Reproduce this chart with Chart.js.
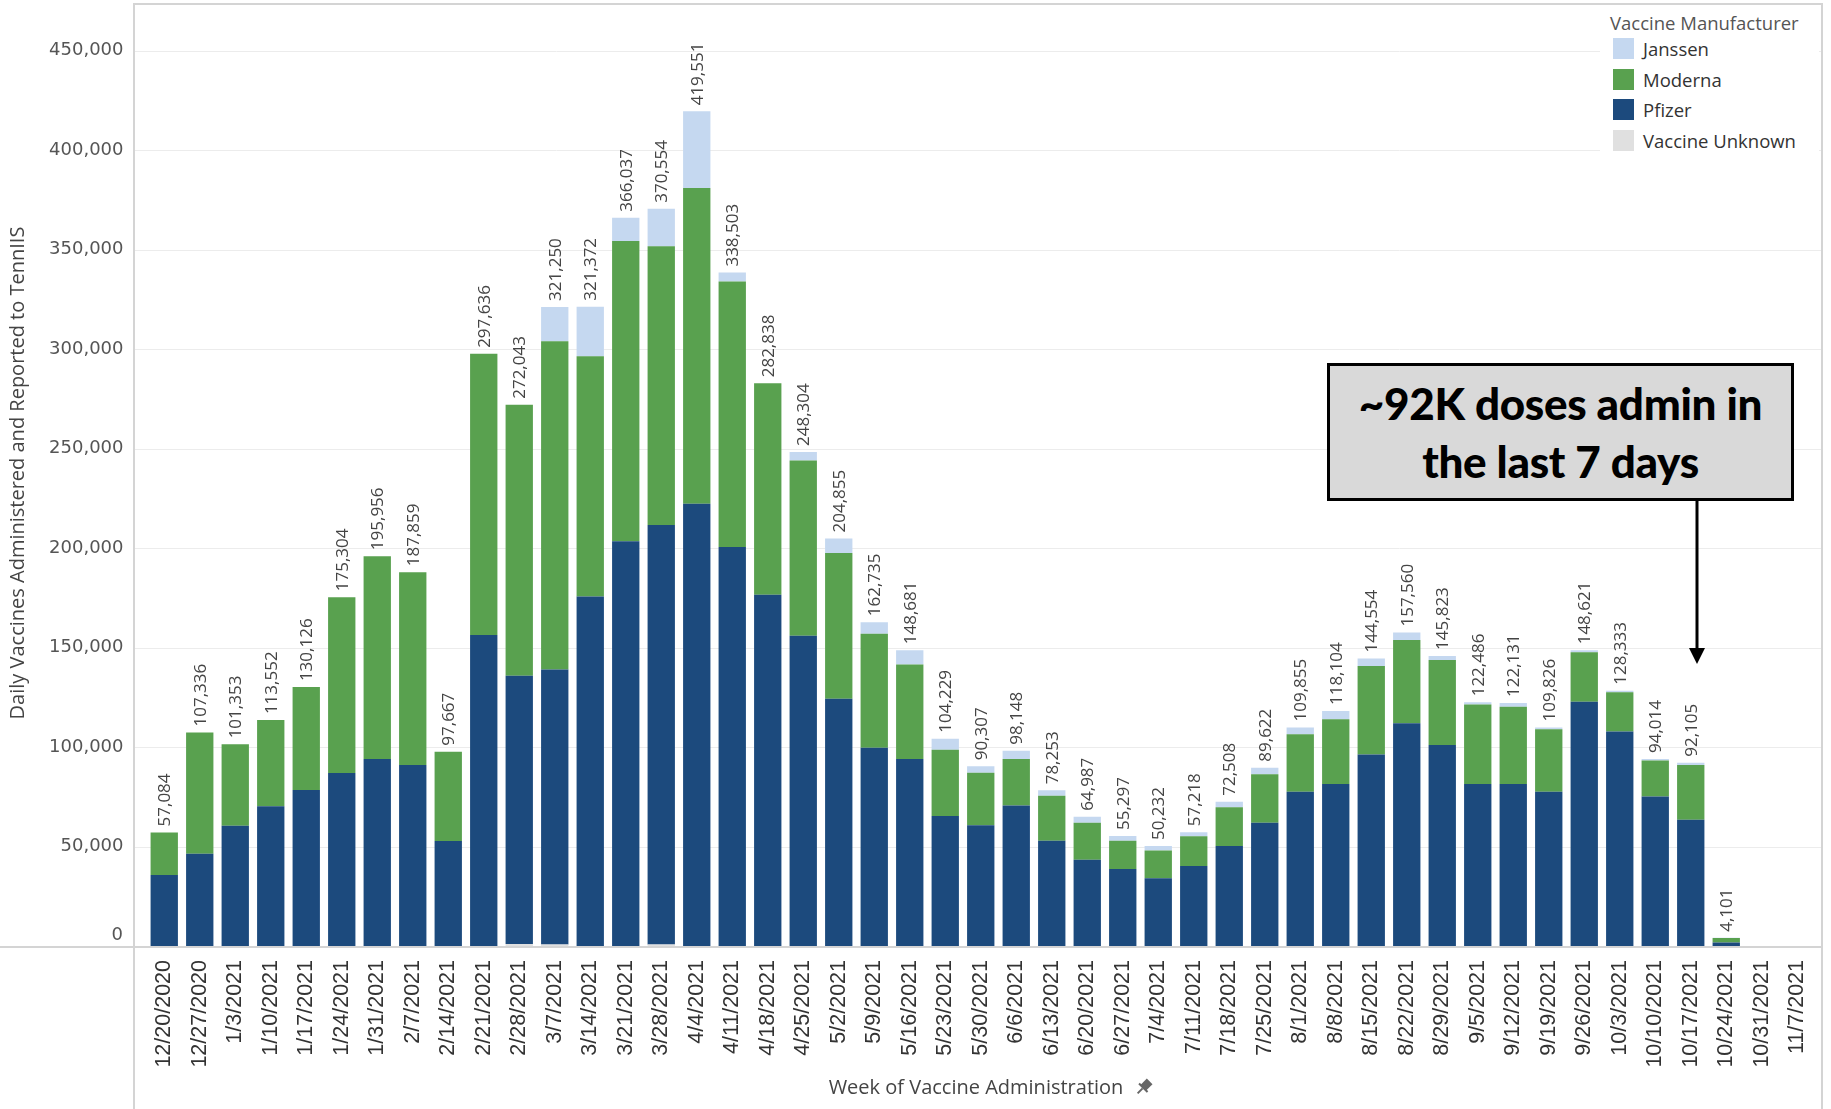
<!DOCTYPE html>
<html>
<head>
<meta charset="utf-8">
<script src="https://cdn.jsdelivr.net/npm/chart.js@4/dist/chart.umd.min.js"></script>
<style>
	html, body { margin: 0; padding: 0; background: #fff; }
	#wrap { position: relative; width: 1831px; height: 1109px; overflow: hidden; }
	#legend { position: absolute; left: 1600px; top: 7px; width: 219px; height: 150px; background: #fff; font-family: "Open Sans", sans-serif; }
	#legend .tit { position: absolute; left: 10px; top: 3px; font-size: 18.5px; color: #555; white-space: nowrap; }
	#legend .item { position: absolute; left: 13px; height: 21px; font-size: 18.5px; color: #333; white-space: nowrap; line-height: 21px; }
	#legend .sw { display: inline-block; width: 21px; height: 21px; vertical-align: top; margin-right: 9px; }
	#note { position: absolute; left: 1327px; top: 363px; width: 461px; background: #d9d9d9; border: 3px solid #000;
		font-family: Lato, sans-serif; font-weight: 900; font-size: 44px; line-height: 58px; color: #000; text-align: center;
		padding-top: 8px; height: 124px; box-sizing: content-box; letter-spacing: -0.3px; }
</style>
</head>
<body>
<div id="wrap">
	<canvas id="chart"></canvas>
	<div id="legend"></div>
	<div id="note">~92K doses admin in<br>the last 7 days</div>
</div>
<script>
const weeks = ["12/20/2020", "12/27/2020", "1/3/2021", "1/10/2021", "1/17/2021", "1/24/2021", "1/31/2021", "2/7/2021", "2/14/2021",
	"2/21/2021", "2/28/2021", "3/7/2021", "3/14/2021", "3/21/2021", "3/28/2021", "4/4/2021", "4/11/2021", "4/18/2021", "4/25/2021",
	"5/2/2021", "5/9/2021", "5/16/2021", "5/23/2021", "5/30/2021", "6/6/2021", "6/13/2021", "6/20/2021", "6/27/2021", "7/4/2021",
	"7/11/2021", "7/18/2021", "7/25/2021", "8/1/2021", "8/8/2021", "8/15/2021", "8/22/2021", "8/29/2021", "9/5/2021", "9/12/2021",
	"9/19/2021", "9/26/2021", "10/3/2021", "10/10/2021", "10/17/2021", "10/24/2021", "10/31/2021", "11/7/2021"];

// weekly totals shown above each bar
const totals = [57084, 107336, 101353, 113552, 130126, 175304, 195956, 187859, 97667,
	297636, 272043, 321250, 321372, 366037, 370554, 419551, 338503, 282838, 248304,
	204855, 162735, 148681, 104229, 90307, 98148, 78253, 64987, 55297, 50232,
	57218, 72508, 89622, 109855, 118104, 144554, 157560, 145823, 122486, 122131,
	109826, 148621, 128333, 94014, 92105, 4101, null, null];

const pfizer = [35700, 46400, 60500, 70200, 78400, 87000, 94000, 91000, 52800,
	156300, 134800, 138200, 175700, 203500, 210800, 222300, 200500, 176600, 156000,
	124300, 99600, 94000, 65300, 60700, 70600, 52900, 43300, 38700, 34000,
	40200, 50300, 62000, 77500, 81400, 96300, 112000, 101000, 81400, 81400,
	77500, 122800, 107800, 75200, 63500, 1800, null, null];

const moderna = [21384, 60936, 40853, 43352, 51726, 88304, 101956, 96859, 44867,
	141336, 136243, 165000, 120800, 150900, 140100, 158700, 133500, 106238, 88000,
	73200, 57400, 47500, 33400, 26400, 23400, 22600, 18700, 14200, 14000,
	15000, 19400, 24300, 29000, 32600, 44400, 41800, 42700, 40000, 38900,
	31500, 24900, 19700, 18100, 27500, 2200, null, null];

const janssen = [0, 0, 0, 0, 0, 0, 0, 0, 0,
	0, 0, 17250, 24872, 11637, 18854, 38551, 4503, 0, 4304,
	7355, 5735, 7181, 5529, 3207, 4148, 2753, 2987, 2397, 2232,
	2018, 2808, 3322, 3355, 4104, 3854, 3760, 2123, 1086, 1831,
	826, 921, 833, 714, 1105, 101, null, null];

const unknown = [0, 0, 0, 0, 0, 0, 0, 0, 0,
	0, 1000, 800, 0, 0, 800, 0, 0, 0, 0,
	0, 0, 0, 0, 0, 0, 0, 0, 0, 0,
	0, 0, 0, 0, 0, 0, 0, 0, 0, 0,
	0, 0, 0, 0, 0, 0, null, null];

const yTicks = [0, 50000, 100000, 150000, 200000, 250000, 300000, 350000, 400000, 450000];

const colors = {
	janssen: "#c5d8f0",
	moderna: "#59a14f",
	pfizer: "#1c4a7d",
	unknown: "#e0e0e0"
};

// html legend, same order as the reference
const legendItems = [["Janssen", colors.janssen], ["Moderna", colors.moderna], ["Pfizer", colors.pfizer], ["Vaccine Unknown", colors.unknown]];
let legendHtml = '<div class="tit">Vaccine Manufacturer</div>';
legendItems.forEach(function (it, i) {
	legendHtml += '<div class="item" style="top:' + (31 + i * 30.7) + 'px"><span class="sw" style="background:' + it[1] + '"></span>' + it[0] + '</div>';
});
document.querySelector("#legend").innerHTML = legendHtml;

const fmt = function (v) { return v.toLocaleString("en-US"); };

const decor = {
	id: "decor",
	beforeDatasetsDraw(chart) {
		const ctx = chart.ctx, y = chart.scales.y;
		ctx.save();
		ctx.strokeStyle = "#ececec";
		ctx.lineWidth = 1;
		yTicks.forEach(function (v) {
			if (v === 0) return;
			const py = Math.round(y.getPixelForValue(v)) + 0.5;
			ctx.beginPath(); ctx.moveTo(135, py); ctx.lineTo(1821, py); ctx.stroke();
		});
		ctx.strokeStyle = "#d4d4d4";
		ctx.lineWidth = 2;
		ctx.beginPath();
		ctx.moveTo(134, 1109); ctx.lineTo(134, 4); ctx.lineTo(1822, 4); ctx.lineTo(1822, 1109);
		ctx.stroke();
		const base = Math.round(y.getPixelForValue(0)) + 1;
		ctx.beginPath(); ctx.moveTo(0, base); ctx.lineTo(1822, base); ctx.stroke();

		// the zero label sits just above the axis line
		ctx.fillStyle = "#555";
		ctx.font = '18px "DejaVu Sans"';
		ctx.textAlign = "right";
		ctx.textBaseline = "middle";
		ctx.fillText("0", 123, base - 12);

		// axis titles
		ctx.fillStyle = "#444";
		ctx.font = '20px "Open Sans"';
		ctx.textAlign = "center";
		ctx.save();
		ctx.translate(18, 473);
		ctx.rotate(-Math.PI / 2);
		ctx.fillText("Daily Vaccines Administered and Reported to TennIIS", 0, 0);
		ctx.restore();
		ctx.fillText("Week of Vaccine Administration", 976, 1088);
		// little pin icon next to the x title
		ctx.save();
		ctx.translate(1144, 1087);
		ctx.rotate(Math.PI / 4);
		ctx.fillStyle = "#666";
		ctx.fillRect(-4, -8, 8, 9);
		ctx.fillRect(-6, 0, 12, 2);
		ctx.fillRect(-1, 2, 2, 7);
		ctx.restore();
		ctx.restore();
	},
	afterDatasetsDraw(chart) {
		const ctx = chart.ctx, x = chart.scales.x, y = chart.scales.y;
		ctx.save();
		ctx.fillStyle = "#444";
		ctx.font = '17px "Open Sans"';
		ctx.textAlign = "left";
		ctx.textBaseline = "middle";
		totals.forEach(function (t, i) {
			if (t == null) return;
			const px = x.getPixelForValue(i), py = y.getPixelForValue(t);
			ctx.save();
			ctx.translate(px + 1, py - 6);
			ctx.rotate(-Math.PI / 2);
			ctx.fillText(fmt(t), 0, 0);
			ctx.restore();
		});

		// arrow from the note box down to the 10/17 bar
		const ax = Math.round(x.getPixelForValue(43)) + 6;
		ctx.strokeStyle = "#000";
		ctx.fillStyle = "#000";
		ctx.lineWidth = 3;
		ctx.beginPath(); ctx.moveTo(ax, 500); ctx.lineTo(ax, 650); ctx.stroke();
		ctx.beginPath(); ctx.moveTo(ax - 8, 648); ctx.lineTo(ax + 8, 648); ctx.lineTo(ax, 664); ctx.closePath(); ctx.fill();
		ctx.restore();
	}
};

const ctx = document.querySelector("#chart").getContext("2d");
const chart = new Chart(ctx, {
	type: "bar",
	data: {
		labels: weeks,
		datasets: [
			{ label: "Vaccine Unknown", data: unknown, backgroundColor: colors.unknown },
			{ label: "Pfizer", data: pfizer, backgroundColor: colors.pfizer },
			{ label: "Moderna", data: moderna, backgroundColor: colors.moderna },
			{ label: "Janssen", data: janssen, backgroundColor: colors.janssen }
		]
	},
	options: {
		responsive: true,
		maintainAspectRatio: false,
		animation: false,
		layout: { autoPadding: false, padding: { top: 5, right: 16, left: 0, bottom: 0 } },
		datasets: {
			bar: { barPercentage: 0.77, categoryPercentage: 1, borderWidth: 0 }
		},
		plugins: {
			legend: { display: false },
			tooltip: { enabled: false }
		},
		scales: {
			x: {
				stacked: true,
				grid: { display: false, drawTicks: false },
				border: { display: false },
				ticks: {
					autoSkip: false,
					minRotation: 90,
					maxRotation: 90,
					padding: 14,
					color: "#333",
					font: { family: "Liberation Sans", size: 21.5 }
				},
				afterFit: function (scale) {
					scale.height = 163;
					scale.paddingLeft = 0;
					scale.paddingRight = 0;
				}
			},
			y: {
				stacked: true,
				min: 0,
				max: 473000,
				grid: { display: false, drawTicks: false },
				border: { display: false },
				ticks: {
					padding: 23,
					color: "#555",
					font: { family: "DejaVu Sans", size: 18 },
					// zero is drawn by the decor plugin, a little higher
					callback: function (v) { return v === 0 ? "" : fmt(v); }
				},
				afterBuildTicks: function (scale) {
					scale.ticks = yTicks.map(function (v) { return { value: v }; });
				},
				afterFit: function (scale) {
					scale.width = 146.5;
					scale.paddingTop = 0;
					scale.paddingBottom = 0;
				}
			}
		}
	},
	plugins: [decor]
});
</script>
</body>
</html>
